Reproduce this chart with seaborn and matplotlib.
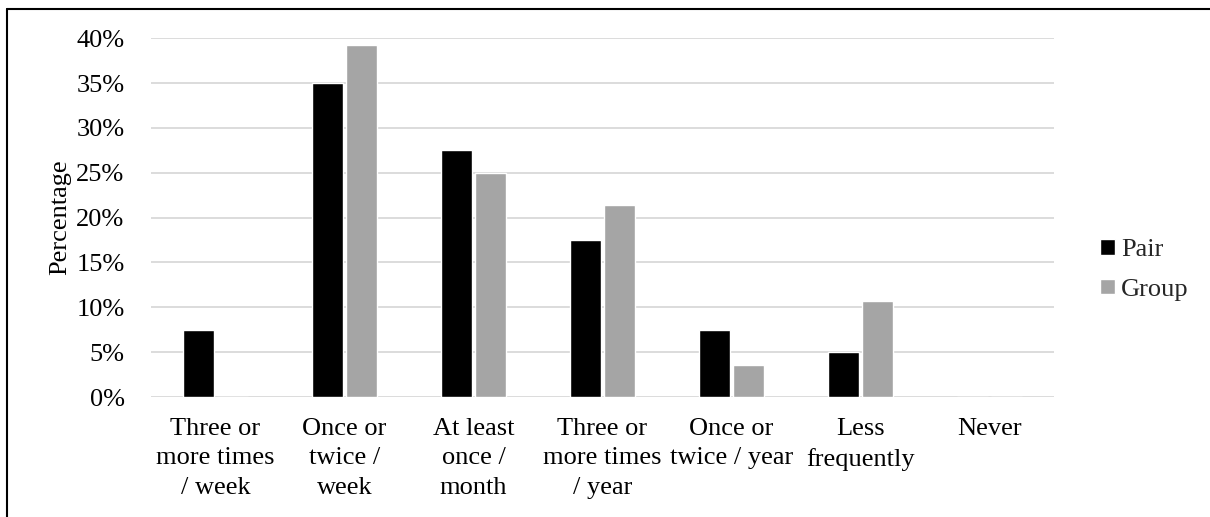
import matplotlib
matplotlib.use("Agg")
import matplotlib.pyplot as plt
import seaborn as sns
import pandas as pd
from matplotlib.lines import Line2D

categories = ["Three or\nmore times\n/ week", "Once or\ntwice /\nweek", "At least\nonce /\nmonth",
              "Three or\nmore times\n/ year", "Once or\ntwice / year", "Less\nfrequently", "Never"]
pair_values = [7.5, 35.0, 27.5, 17.5, 7.5, 5.0, 0.0]
group_values = [0.0, 39.3, 25.0, 21.4, 3.6, 10.7, 0.0]
series_names = ["Pair", "Group"]
series_colors = ["#000000", "#a5a5a5"]
y_ticks = [0, 5, 10, 15, 20, 25, 30, 35, 40]
y_tick_labels = [f"{t}%" for t in y_ticks]

df = pd.DataFrame({
    "category": categories * 2,
    "value": pair_values + group_values,
    "series": [series_names[0]] * len(categories) + [series_names[1]] * len(categories),
})

sns.set_theme(style="white")
plt.rcParams["font.family"] = ["Liberation Serif", "DejaVu Serif"]
FS = 19

fig = plt.figure(figsize=(12.1, 5.17), dpi=100)
ax = fig.add_axes([151 / 1210, 1 - 397 / 517, (1054 - 151) / 1210, (397 - 38.3) / 517])

sns.barplot(data=df, x="category", y="value", hue="series", order=categories,
            hue_order=series_names, palette=series_colors, width=0.53, gap=0.09,
            saturation=1, ax=ax, legend=True, zorder=3)

ax.set_ylim(0, 40)
ax.set_xlim(-0.5, len(categories) - 0.5)
ax.set_yticks(y_ticks)
ax.set_yticklabels(y_tick_labels, fontsize=FS, color="#000000")
ax.set_xticks(range(len(categories)))
ax.set_xticklabels(categories, fontsize=FS, color="#000000", linespacing=1.45)
ax.tick_params(axis="y", length=0, pad=19)
ax.tick_params(axis="x", length=0, pad=15)
ax.set_xlabel("")
ax.set_ylabel("Percentage", fontsize=FS, color="#000000", labelpad=4)
ax.grid(axis="y", color="#d9d9d9", linewidth=1.3, zorder=0)
ax.grid(axis="x", visible=False)
for s in ax.spines.values():
    s.set_visible(False)
ax.set_axisbelow(True)

handles, labels = ax.get_legend_handles_labels()
ax.legend(handles, labels, loc="center left", bbox_to_anchor=(1087 / 1210, 1 - 270 / 517),
          bbox_transform=fig.transFigure, frameon=False, fontsize=FS, borderpad=0,
          handlelength=0.55, handleheight=0.55, handletextpad=0.25, labelspacing=0.65)

# figure frame (left and top edges visible)
fig.add_artist(Line2D([7 / 1210, 7 / 1210], [0, 1 - 9 / 517], transform=fig.transFigure,
                      color="#000000", linewidth=1.5))
fig.add_artist(Line2D([7 / 1210, 1], [1 - 9 / 517, 1 - 9 / 517], transform=fig.transFigure,
                      color="#000000", linewidth=1.5))

fig.savefig("out.png", dpi=100, facecolor="white")
